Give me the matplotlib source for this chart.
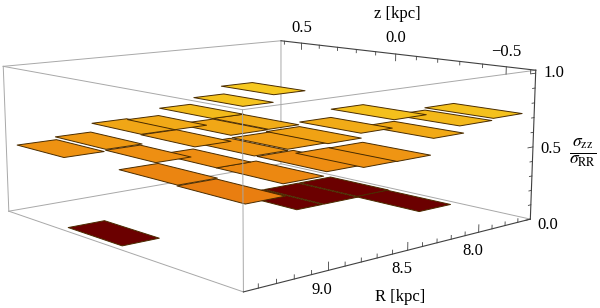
import numpy as np
import matplotlib
matplotlib.use('Agg')
import matplotlib.pyplot as plt
from matplotlib.colors import LinearSegmentedColormap
from mpl_toolkits.mplot3d.art3d import Poly3DCollection

# Data ----------------------------------------------------

R_hi = [9.35, 9.20, 9.04, 8.85, 8.51, 8.26, 8.38, 8.57, 8.68, 8.80, 8.77, 8.63, 9.06, 8.93, 8.90, 8.71,
        8.60, 8.46, 9.01, 8.82, 8.67, 8.22, 8.02, 7.90, 8.12, 8.34,
        8.40, 8.21, 7.95, 7.96, 9.48]
R_lo = [9.11, 8.98, 8.82, 8.63, 8.26, 8.02, 8.14, 8.36, 8.48, 8.60, 8.53, 8.43, 8.84, 8.73, 8.67, 8.49,
        8.34, 8.23, 8.76, 8.56, 8.40, 7.99, 7.78, 7.68, 7.90, 8.12,
        8.22, 7.96, 7.71, 7.72, 9.27]
z_hi = [0.70, 0.61, 0.46, 0.32, 0.07, -0.11, -0.03, 0.21, 0.27, 0.36, 0.29, 0.21, 0.52, 0.43, 0.38, 0.23,
        0.13, 0.06, 0.41, 0.25, 0.16, -0.09, -0.25, -0.32, -0.18, -0.02,
        0.26, 0.26, 0.26, -0.04, 0.25]
z_lo = [0.40, 0.30, 0.17, 0.01, -0.27, -0.42, -0.35, -0.06, 0.01, 0.07, 0.00, -0.08, 0.23, 0.16, 0.08, -0.07,
        -0.15, -0.24, 0.08, -0.11, -0.18, -0.38, -0.54, -0.61, -0.49, -0.31,
        -0.05, -0.05, -0.04, -0.34, -0.05]
ratio = [0.43, 0.49, 0.41, 0.39, 0.39, 0.46, 0.42, 0.86, 0.78, 0.70, 0.60, 0.64, 0.59, 0.62, 0.52, 0.47,
         0.52, 0.56, 0.28, 0.18, 0.31, 0.72, 0.69, 0.74, 0.61, 0.63,
         0.03, 0.03, 0.03, 0.03, 0.03]

R_ticks = np.arange(7.7, 9.45, 0.1)
z_ticks = np.arange(-0.6, 0.65, 0.1)
s_ticks = np.arange(0.0, 1.05, 0.1)

R_min, R_max = 7.6, 9.48
z_min, z_max = -0.62, 0.62
s_min, s_max = 0.0, 1.02

# Figure --------------------------------------------------

fig = plt.figure(figsize=(6, 3.08), dpi=100)
ax = fig.add_subplot(projection='3d', computed_zorder=False)
ax.set_xlim(R_max, R_min, view_margin=0)
ax.set_ylim(z_min, z_max, view_margin=0)
ax.set_zlim(s_min, s_max, view_margin=0)
ax.set_proj_type('persp', focal_length=1/3)
ax.view_init(elev=10.4054, azim=-130.98, roll=0.0917)
ax.set_box_aspect((2.4996, 2.5037, 1), zoom=2.2308/3)
ax.set_axis_off()
scale, cx, cy = 3873.21, 265.777, 142.44
side = 0.185 * scale
ax.set_position([(cx - 0.095*scale)/600, (308 - cy - 0.095*scale)/308, side/600, side/308])

cmap = LinearSegmentedColormap.from_list('heat', [
    (0.00, '#6b0000'), (0.10, '#6b0000'), (0.15, '#e87c10'), (0.40, '#ee8e12'), (0.55, '#f0a014'),
    (0.65, '#f1ae18'), (0.72, '#f4c01c'), (0.86, '#f6c820'), (1.00, '#f8cc20')])

# Box lines -----------------------------------------------

grey = '#a8a8a8'
dark = '#404040'


def edge(p, q, col=grey, lw=0.7, zo=1):
    ax.plot([p[0], q[0]], [p[1], q[1]], [p[2], q[2]], color=col, lw=lw, zorder=zo)


edge((R_max, z_max, s_min), (R_min, z_max, s_min))
edge((R_min, z_max, s_min), (R_min, z_min, s_min))
edge((R_min, z_max, s_min), (R_min, z_max, s_max))
edge((R_max, z_max, s_max), (R_min, z_max, s_max))
edge((R_max, z_max, s_min), (R_max, z_max, s_max))
edge((R_max, z_max, s_min), (R_max, z_min, s_min), zo=50)
edge((R_max, z_max, s_max), (R_max, z_min, s_max), zo=50)
edge((R_max, z_min, s_max), (R_min, z_min, s_max), zo=50)
edge((R_max, z_min, s_min), (R_max, z_min, s_max), zo=50)
edge((R_max, z_min, s_min), (R_min, z_min, s_min), col=dark, lw=0.8, zo=50)
edge((R_min, z_max, s_max), (R_min, z_min, s_max), col=dark, lw=0.8, zo=50)
edge((R_min, z_min, s_min), (R_min, z_min, s_max), col=dark, lw=0.8, zo=50)

# Ticks ---------------------------------------------------

for v in R_ticks:
    major = abs(v*2 - round(v*2)) < 1e-6
    edge((v, z_min, 0), (v, z_min, 0.05 if major else 0.025), col=dark, lw=0.6, zo=50)
for v in z_ticks:
    major = abs(v*2 - round(v*2)) < 1e-6
    edge((R_min, v, s_max), (R_min, v, s_max - (0.05 if major else 0.025)), col=dark, lw=0.6, zo=50)
for v in s_ticks:
    major = abs(v*2 - round(v*2)) < 1e-6
    edge((R_min, z_min, v), (R_min + (0.04 if major else 0.02), z_min, v), col=dark, lw=0.6, zo=50)

# Bins ----------------------------------------------------

order = np.argsort(ratio)
for n, i in enumerate(order):
    rh, rl, zh, zl, s = R_hi[i], R_lo[i], z_hi[i], z_lo[i], ratio[i]
    face = [[(rh, zh, s), (rl, zh, s), (rl, zl, s), (rh, zl, s)]]
    ax.add_collection3d(Poly3DCollection(face, facecolor=cmap(s), edgecolor='#4a2c00', linewidth=0.7, zorder=10 + n))

# Labels --------------------------------------------------

labels = [('0.5', 302, 28), ('0.0', 396, 38), ('\u22120.5', 506, 52), ('z [kpc]', 397, 14),
          ('1.0', 554, 73), ('0.5', 551, 149), ('0.0', 548, 225),
          ('8.0', 473, 251), ('8.5', 402, 269), ('9.0', 322, 290), ('R [kpc]', 400, 297)]
for txt, x, y in labels:
    fig.text(x/600, 1 - y/308, txt, family='Liberation Serif', fontsize=12, ha='center', va='center')
plt.rcParams['mathtext.fontset'] = 'stix'
fig.text(583/600, 1 - 153/308, r'$\frac{\sigma_{\mathrm{zz}}}{\sigma_{\mathrm{RR}}}$', fontsize=18, ha='center', va='center')

fig.savefig('out.png', dpi=100)
